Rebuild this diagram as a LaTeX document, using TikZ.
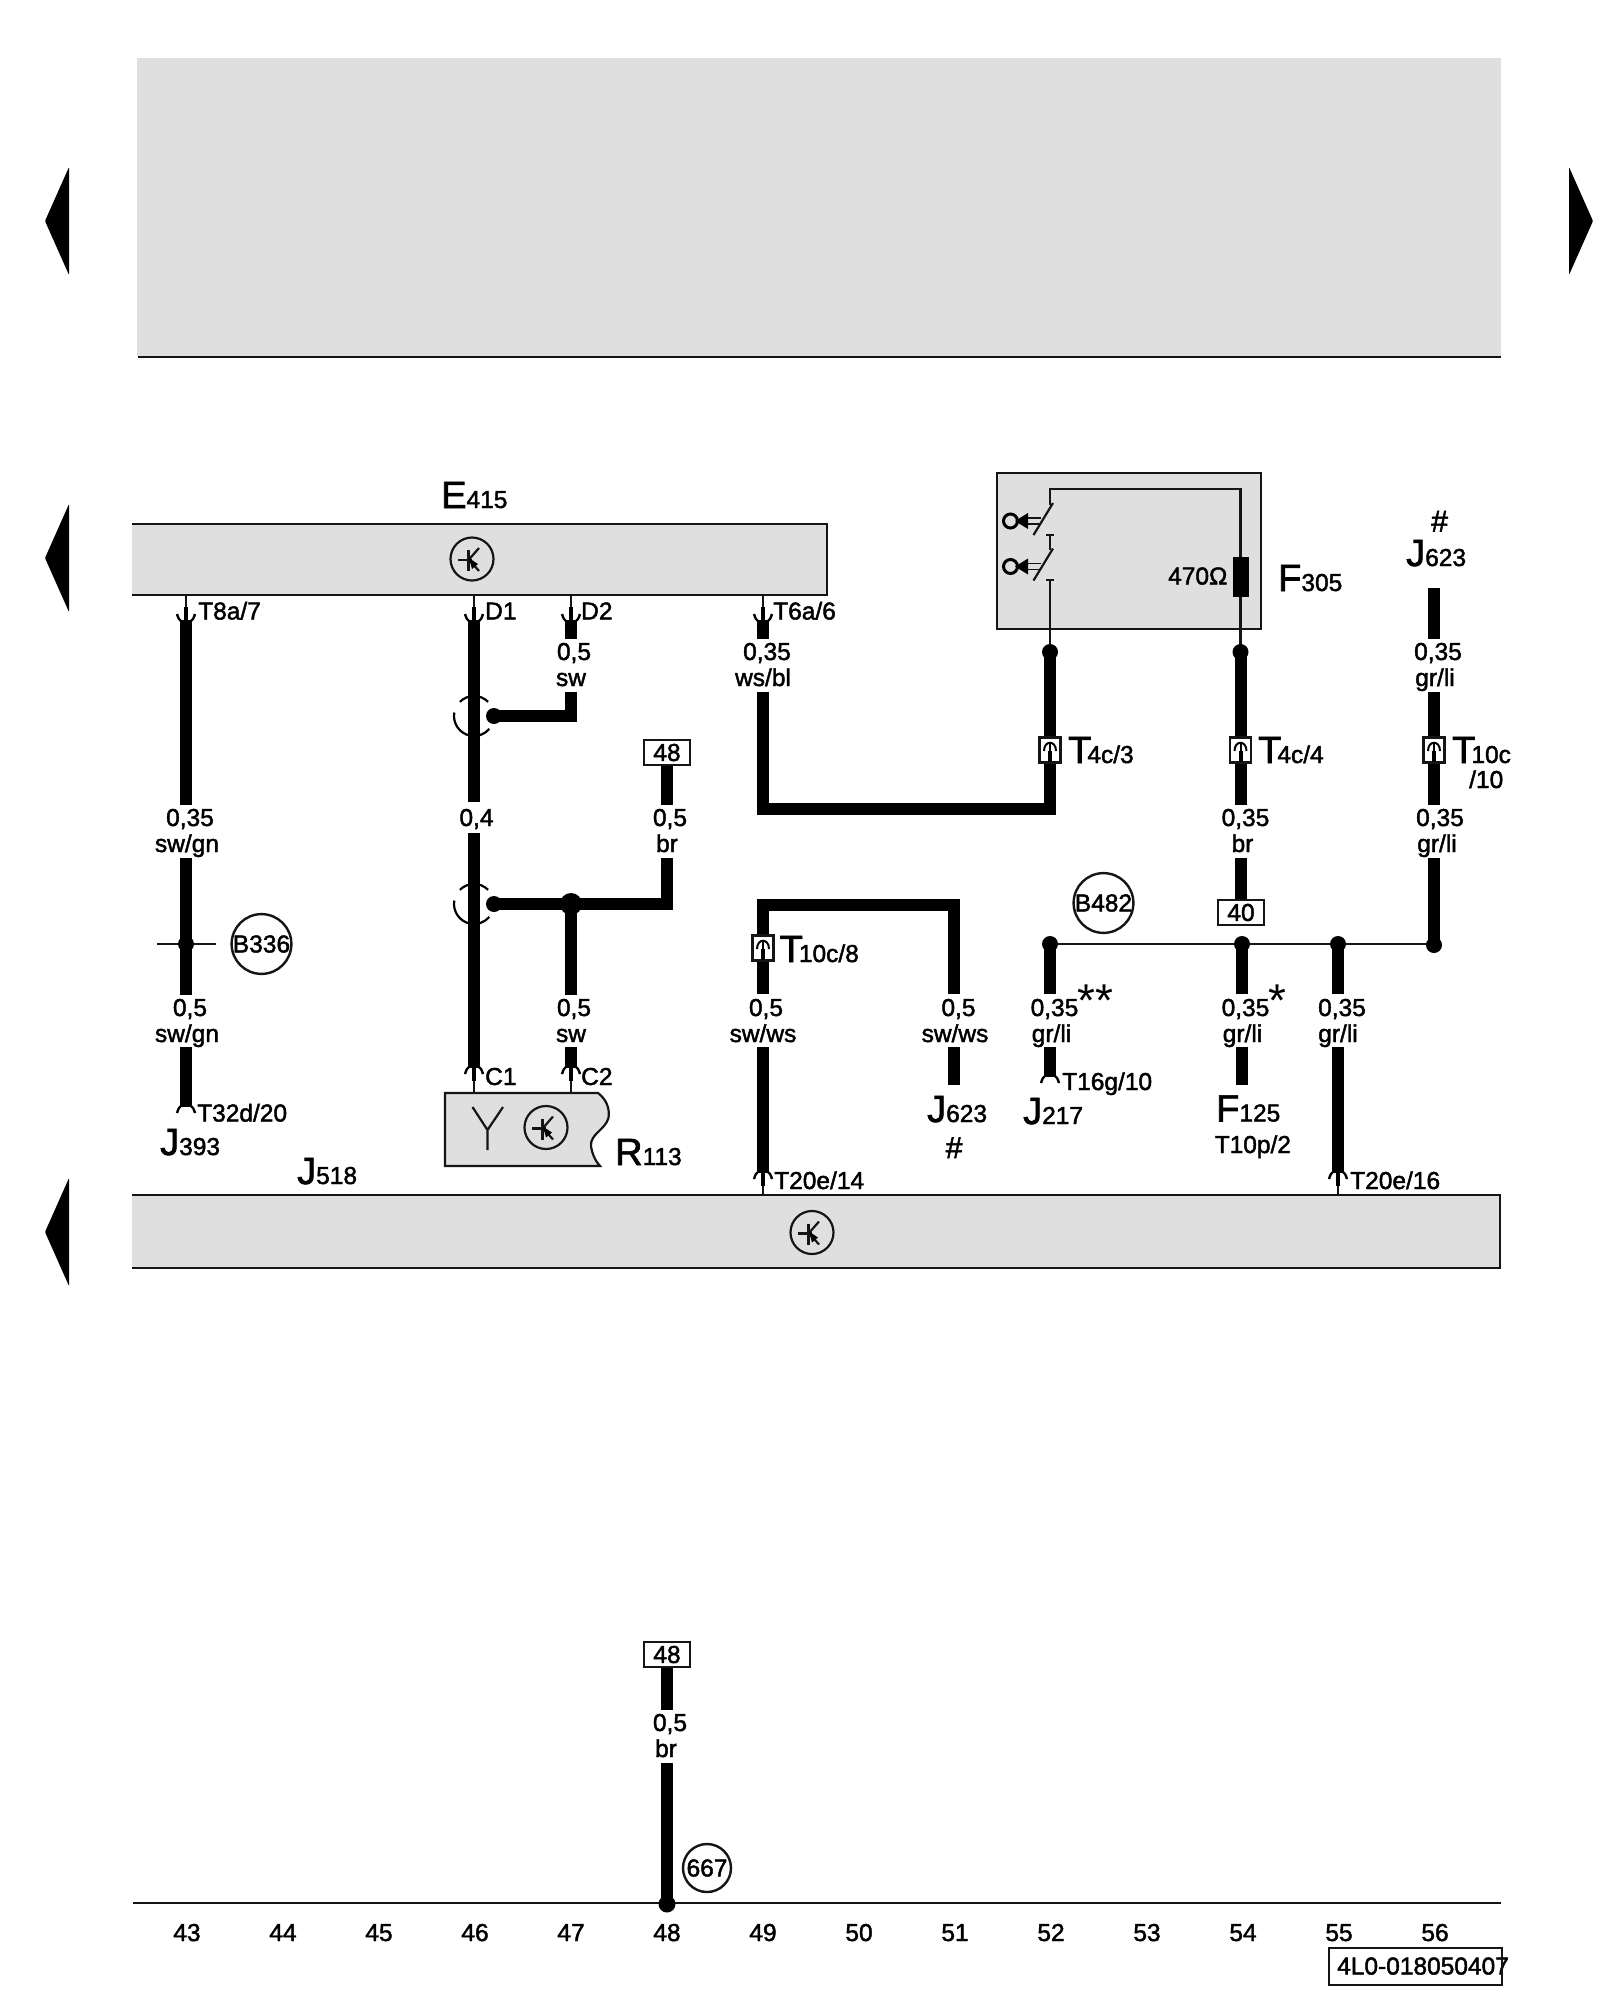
\documentclass[tikz,border=0pt]{standalone}
\usepackage{fontspec}
\setmainfont[FakeBold=1.8]{Liberation Sans}
\newfontfamily\plainf{Liberation Sans}
\definecolor{panel}{HTML}{DFDFDF}
\definecolor{ink}{HTML}{151515}
\newcommand\smallf{\fontsize{24.5}{26}\selectfont}
\newcommand\subf{\fontsize{24.5}{26}\selectfont}
\newcommand\bigf{\fontsize{38}{40}\selectfont}
\tikzset{
  wirel/.style={line width=12pt,draw=black,line cap=butt,miter limit=10},
  thinl/.style={line width=2.2pt,draw=ink},
  txt/.style={font=\smallf,inner sep=0pt,anchor=base,text=black},
  txtw/.style={font=\smallf,inner sep=0pt,anchor=base west,text=black},
  ref/.style={inner sep=0pt,anchor=base west,text=black},
  numbox/.style={draw=ink,line width=2.2pt,fill=white,font=\smallf,inner sep=0pt,minimum width=46pt,minimum height=25pt},
  bubble/.style={circle,draw=ink,line width=2.4pt,font=\smallf,inner sep=0pt,minimum size=58pt},
  junction/.style={circle,fill=black,inner sep=0pt,minimum size=16pt},
  pics/flare/.style={code={
    \fill[white] (-5,-7) .. controls (-5,0) and (5,0) .. (5,-7) -- cycle;
    \draw[line width=2.4pt,black] (-9,-6) .. controls (-7.5,-1) and (-6.5,0) .. (-5,1);
    \draw[line width=2.4pt,black] (9,-6) .. controls (7.5,-1) and (6.5,0) .. (5,1);
  }},
  pics/pin/.style={code={
    \fill[white] (-5,-7) .. controls (-5,0) and (5,0) .. (5,-7) -- cycle;
    \draw[line width=2.4pt,black] (-9,-6) .. controls (-7.5,-1) and (-6.5,0) .. (-5,1);
    \draw[line width=2.4pt,black] (9,-6) .. controls (7.5,-1) and (6.5,0) .. (5,1);
    \draw[line width=4.5pt,black] (0,-13) -- (0,1);
  }},
  pics/plug/.style={code={
    \draw[line width=2.2pt,draw=ink,fill=white] (-10.5,-12.5) rectangle (10.5,12.5);
    \draw[line width=4pt,black] (0,12) -- (0,1);
    \draw[line width=2pt,black] (0,1) -- (0,-6);
    \draw[line width=2pt,black] (-6,1) .. controls (-6,-10) and (6,-10) .. (6,1);
  }},
  pics/tsym/.style={code={
    \draw[line width=2.2pt,draw=ink] (-14,1) -- (0,1);
    \draw[line width=2.2pt,draw=ink] (-3.5,-9) -- (-3.5,12);
    \draw[line width=2.2pt,draw=ink] (-3.5,1) -- (7,-11);
    \draw[line width=2.2pt,draw=ink] (-3.5,0) -- (7,12);
    \fill[black] (-3,-1) -- (6,5) -- (0,10) -- cycle;
  }},
  pics/shield/.style={code={
    \draw[line width=2.2pt,draw=black] (225:20) arc[start angle=225,end angle=315,radius=20];
    \draw[line width=2.2pt,draw=black] (190:20) arc[start angle=190,end angle=40,radius=20];
  }},
  pics/switch/.style={code={
    \draw[line width=2.2pt,draw=ink] (3,-2) -- (-16.5,30);
    \draw[line width=1.8pt,draw=ink] (-26,13) -- (-9,13);
    \draw[line width=1.8pt,draw=ink] (-26,19) -- (-11,19);
    \fill[black] (-35,16) -- (-22,8) -- (-22,24) -- cycle;
    \draw[line width=3pt,draw=black] (-39.5,16) circle[radius=7];
  }},
}
\newcommand\wire[4]{\coordinate (#1a) at (#2,#3); \coordinate (#1b) at (#2,#4); \draw[wirel] (#1a) -- (#1b);}
% name, x line 1, x line 2, top of the gap, line 1, line 2
\newcommand\wlab[6]{\node[txt] (#1a) at (#2,#4+21) {#5}; \node[txt] (#1b) at (#3,#4+47) {#6};}
% name, x, baseline, big letter, small text
\newcommand\Lbl[5]{\node[ref] (#1) at (#2,#3) {{\bigf #4}{\subf #5}};}
\begin{document}
\begin{tikzpicture}[x=1pt,y=-1pt]
\useasboundingbox (0,0) rectangle (1600,2000);
\fill[white] (0,0) rectangle (1600,2000);

% page arrows
\fill[black,rounded corners=1pt] (45,221) -- (69,167) -- (69,275) -- cycle;
\fill[black,rounded corners=1pt] (45,558) -- (69,504) -- (69,612) -- cycle;
\fill[black,rounded corners=1pt] (45,1232) -- (69,1178) -- (69,1286) -- cycle;
\fill[black,rounded corners=1pt] (1593,221) -- (1569,167) -- (1569,275) -- cycle;

% panels
\fill[panel] (137,58) rectangle (1501,357);
\draw[thinl] (138,357) -- (1501,357);
\fill[panel] (132,524) rectangle (827,595);
\draw[thinl] (132,524) -- (827,524) -- (827,595) -- (132,595);
\fill[panel] (132,1195) rectangle (1500,1268);
\draw[thinl] (132,1195) -- (1500,1195) -- (1500,1268) -- (132,1268);
\node[circle,draw=ink,line width=2.2pt,minimum size=43pt,inner sep=0pt] (tE) at (472,559) {};
\pic at (tE.center) {tsym};
\node[circle,draw=ink,line width=2.2pt,minimum size=43pt,inner sep=0pt] (tJ) at (812,1232.5) {};
\pic at (tJ.center) {tsym};

% R113
\draw[thinl,fill=panel] (445,1093) -- (598,1093) .. controls (606,1099) and (610,1108) .. (608.5,1118)
  .. controls (605,1130) and (590,1134) .. (591,1146) .. controls (592,1154) and (596,1162) .. (600,1166) -- (445,1166) -- cycle;
\node[circle,draw=ink,line width=2.2pt,minimum size=43pt,inner sep=0pt] (tR) at (546,1127.5) {};
\pic at (tR.center) {tsym};
\coordinate (antA) at (472.5,1107);
\coordinate (antB) at (503,1107);
\coordinate (antC) at (487.5,1130);
\coordinate (antD) at (487.5,1150);
\draw[thinl] (antA) -- (antC) -- (antB) (antC) -- (antD);

% F305
\draw[line width=2.6pt,draw=ink,fill=panel] (997,473) rectangle (1261,629);
\coordinate (sT) at (1050,489);
\coordinate (sR) at (1240.5,489);
\coordinate (rO) at (1240.5,652);
\coordinate (sL) at (1050,652);
\draw[thinl] (1050,505) -- (sT) -- (sR) -- (rO);
\draw[thinl] (1050,580) -- (sL);
\draw[thinl] (1050,535) -- (1050,550);
\draw[line width=2pt,draw=ink] (1046,535) -- (1054,535) (1046,580) -- (1054,580);
\pic at (1050,505) {switch};
\pic at (1050,550.5) {switch};
\node[fill=black,inner sep=0pt,minimum width=16pt,minimum height=40pt] (res) at (1240.5,577) {};

% shields
\pic at (474,716) {shield};
\pic at (474,904) {shield};

% wires
\wire{wa}{186}{620}{805}
\wire{wb}{186}{858}{995}
\wire{wc}{186}{1047}{1107}
\wire{wd}{474}{620}{802}
\wire{we}{474}{833}{1068}
\wire{wf}{571}{620}{639}
\wire{wg}{571}{692}{722}
\draw[wirel] (494,716) -- (577,716);
\wire{wh}{571}{904}{995}
\wire{wi}{571}{1047}{1068}
\wire{wj}{667}{765}{805}
\draw[wirel] (667,858) -- (667,904) -- (494,904);
\wire{wk}{763}{620}{639}
\draw[wirel] (763,692) -- (763,809) -- (1050,809) -- (sL);
\draw[wirel] (954,994) -- (954,905) -- (763,905) -- (763,994);
\wire{wl}{763}{1047}{1173}
\wire{wm}{954}{1047}{1085}
\wire{wn}{1240.5}{652}{805}
\wire{wo}{1240.5}{858}{900}
\wire{wp}{1434}{588}{639}
\wire{wq}{1434}{692}{805}
\wire{wr}{1434}{858}{944}
\wire{ws}{1050}{944}{994}
\wire{wt}{1050}{1047}{1077}
\wire{wu}{1242}{944}{994}
\wire{wv}{1242}{1047}{1085}
\wire{ww}{1338}{944}{994}
\wire{wx}{1338}{1047}{1173}
\wire{wy}{667}{1667}{1710}
\wire{wz}{667}{1763}{1904}

% thin joins
\coordinate (crossA) at (157,944);
\coordinate (crossB) at (216,944);
\draw[thinl] (crossA) -- (crossB);
\draw[thinl] (wrb) -- (wsa);
\coordinate (baseA) at (133,1903);
\coordinate (baseB) at (1500.5,1903);
\draw[thinl] (baseA) -- (baseB);
\draw[thinl] (186,595) -- (186,610);
\draw[thinl] (474,595) -- (474,610);
\draw[thinl] (571,595) -- (571,610);
\draw[thinl] (763,595) -- (763,610);
\draw[thinl] (474,1080) -- (474,1093);
\draw[thinl] (571,1080) -- (571,1093);
\draw[thinl] (763,1185) -- (763,1195);
\draw[thinl] (1338,1185) -- (1338,1195);

% pins
\pic at (186,620) {pin};
\pic at (474,620) {pin};
\pic at (571,620) {pin};
\pic at (763,620) {pin};
\pic[yscale=-1] at (474,1068) {pin};
\pic[yscale=-1] at (571,1068) {pin};
\pic[yscale=-1] at (763,1173) {pin};
\pic[yscale=-1] at (1338,1173) {pin};
\pic[yscale=-1] at (186,1107) {flare};
\pic[yscale=-1] at (1050,1077) {flare};

% plugs
\pic at (1050,750) {plug};
\pic at (1240.5,750) {plug};
\pic at (1434,750) {plug};
\pic at (763,948) {plug};

% junction dots
\node[junction] (d1) at (186,944) {};
\node[junction] (d2) at (494,716) {};
\node[junction] (d3) at (494,904) {};
\node[junction,minimum size=22pt] (d4) at (571,904) {};
\node[junction] (d5) at (1050,652) {};
\node[junction] (d6) at (1240.5,652) {};
\node[junction] (d7) at (1050,944) {};
\node[junction] (d8) at (1242,944) {};
\node[junction] (d9) at (1338,944) {};
\node[junction] (d10) at (1434,945) {};
\node[junction,minimum size=17pt] (d11) at (667,1904) {};

% number boxes
\node[numbox] (n48a) at (667,752.5) {48};
\node[numbox] (n40) at (1241,912.5) {40};
\node[numbox] (n48b) at (667,1654.5) {48};

% bubbles
\node[bubble] (b336) at (261.5,944) {B336};
\node[bubble] (b482) at (1103.5,903) {B482};
\node[bubble,minimum size=48pt] (b667) at (707,1868) {667};

% wire labels
\wlab{la}{190}{187}{805}{0,35}{sw/gn}
\wlab{lb}{190}{187}{995}{0,5}{sw/gn}
\node[txt] (lc) at (476.5,826) {0,4};
\wlab{ld}{574}{571}{639}{0,5}{sw}
\wlab{le}{574}{571}{995}{0,5}{sw}
\wlab{lf}{670}{667}{805}{0,5}{br}
\wlab{lg}{767}{763}{639}{0,35}{ws/bl}
\wlab{lh}{766}{763}{995}{0,5}{sw/ws}
\wlab{li}{958.5}{955}{995}{0,5}{sw/ws}
\wlab{lj}{1054.5}{1051.5}{995}{0,35}{gr/li}
\wlab{lk}{1245.5}{1242.5}{995}{0,35}{gr/li}
\wlab{ll}{1342}{1338}{995}{0,35}{gr/li}
\wlab{lm}{1245.5}{1242.5}{805}{0,35}{br}
\wlab{ln}{1438}{1435}{639}{0,35}{gr/li}
\wlab{lo}{1440}{1437}{805}{0,35}{gr/li}
\wlab{lp}{670}{666}{1710}{0,5}{br}

% pin labels
\node[txtw] (t1) at (198,619.5) {T8a/7};
\node[txtw] (t2) at (485,619.5) {D1};
\node[txtw] (t3) at (581,619.5) {D2};
\node[txtw] (t4) at (773,619.5) {T6a/6};
\node[txtw] (t5) at (197,1121.5) {T32d/20};
\node[txtw] (t6) at (485,1085) {C1};
\node[txtw] (t7) at (581,1085) {C2};
\node[txtw] (t8) at (774,1189) {T20e/14};
\node[txtw] (t9) at (1350,1189) {T20e/16};
\node[txtw] (t10) at (1062,1090) {T16g/10};
\node[txtw] (t11) at (1214.5,1153) {T10p/2};
\node[txtw] (t12) at (1168,584.5) {470Ω};

% component references
\Lbl{E415}{441}{508}{E}{415}
\Lbl{F305}{1278}{591}{F}{305}
\Lbl{J623t}{1406}{566}{J}{623}
\Lbl{J393}{160}{1155}{J}{393}
\Lbl{J518}{297}{1184}{J}{518}
\Lbl{R113}{615}{1165}{R}{113}
\Lbl{J623b}{927}{1122}{J}{623}
\Lbl{J217}{1023}{1124}{J}{217}
\Lbl{F125}{1216}{1121.5}{F}{125}
\Lbl{T4c3}{1068}{763}{T\kern-4pt}{4c/3}
\Lbl{T4c4}{1258}{763}{T\kern-4pt}{4c/4}
\Lbl{T10c}{1452}{763}{T\kern-4pt}{10c}
\node[txtw] (T10b) at (1469,788) {/10};
\Lbl{T10c8}{779.5}{962}{T\kern-4pt}{10c/8}
\node[ref,font=\fontsize{30}{32}\selectfont] (hash1) at (1431,531.5) {\#};
\node[ref,font=\fontsize{30}{32}\selectfont] (hash2) at (945.5,1158) {\#};
\node[ref,font=\plainf\fontsize{46}{48}\selectfont] (star2) at (1077,1016) {**};
\node[ref,font=\plainf\fontsize{46}{48}\selectfont] (star1) at (1268,1016) {*};

% column numbers
\foreach \n [count=\i from 0] in {43,...,56}
  \node[txt] (c\n) at (187+\i*96,1941) {\n};

% drawing number
\node[txtw] (docno) at (1337,1974.5) {4L0-018050407};
\coordinate (dA) at (1329,1948);
\coordinate (dB) at (1502,1985);
\draw[thinl] (dA) rectangle (dB);
\end{tikzpicture}
\end{document}
